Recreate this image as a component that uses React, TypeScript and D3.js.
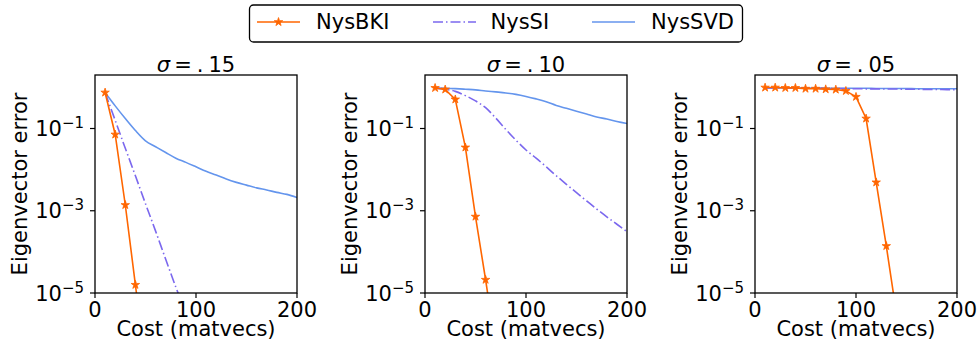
import React, { useEffect, useRef } from 'react';
import * as d3 from 'd3';

// x values (cost in matvecs)
const costs = [10, 20, 30, 40, 50, 60, 70, 80, 90, 100, 110, 120, 130, 140, 150, 160, 170, 180, 190, 200];

// sigma = .15
const bkiCost15 = [10, 20, 30, 40, 50];
const bkiErr15 = [0.75, 0.0715, 1.38e-3, 1.58e-5, 2e-7];
const siCost15 = [10, 20, 30, 40, 50, 60, 70, 80, 90];
const siErr15 = [0.75, 0.158, 0.033, 7.1e-3, 1.48e-3, 3.2e-4, 6.6e-5, 1.4e-5, 3.2e-6];
const svdErr15 = [0.75, 0.355, 0.174, 0.089, 0.05, 0.036, 0.026, 0.019, 0.015, 0.0117,
  0.0091, 0.0074, 0.0059, 0.0049, 0.0042, 0.0036, 0.0032, 0.0028, 0.0025, 0.0021];

// sigma = .10
const bkiCost10 = [10, 20, 30, 40, 50, 60, 70];
const bkiErr10 = [0.97, 0.89, 0.51, 0.0346, 7.2e-4, 2.1e-5, 5e-7];
const siErr10 = [0.96, 0.9, 0.8, 0.63, 0.47, 0.32, 0.18, 0.095, 0.052, 0.03,
  0.019, 0.0117, 7.1e-3, 4.4e-3, 2.75e-3, 1.74e-3, 1.1e-3, 7.1e-4, 4.7e-4, 3.1e-4];
const svdErr10 = [0.966, 0.955, 0.933, 0.902, 0.871, 0.818, 0.776, 0.733, 0.676, 0.603,
  0.525, 0.447, 0.363, 0.309, 0.263, 0.224, 0.191, 0.17, 0.148, 0.132];

// sigma = .05
const bkiCost05 = [10, 20, 30, 40, 50, 60, 70, 80, 90, 100, 110, 120, 130, 140];
const bkiErr05 = [0.99, 0.99, 0.97, 0.97, 0.93, 0.93, 0.9, 0.885, 0.82, 0.59, 0.175, 4.9e-3, 1.39e-4, 3.2e-6];
const siErr05 = [0.97, 0.97, 0.96, 0.96, 0.95, 0.95, 0.94, 0.94, 0.93, 0.93,
  0.92, 0.92, 0.91, 0.91, 0.9, 0.9, 0.89, 0.89, 0.88, 0.88];
const svdErr05 = [0.97, 0.97, 0.97, 0.96, 0.96, 0.96, 0.96, 0.95, 0.95, 0.95,
  0.95, 0.94, 0.94, 0.94, 0.94, 0.93, 0.93, 0.93, 0.93, 0.93];

const panelTitles = ['.15', '.10', '.05'];
const xTicks = [0, 100, 200];
const yTicks = [1e-1, 1e-3, 1e-5];
const legendLabels = ['NysBKI', 'NysSI', 'NysSVD'];

const ORANGE = '#ff6600';
const PURPLE = '#7b68ee';
const BLUE = '#6495ed';
const FONT = '"DejaVu Sans", sans-serif';

const zip = (xs: number[], ys: number[]) => xs.map((x, i) => [x, ys[i]] as [number, number]);

const App: React.FC = () => {
  const svgRef = useRef<SVGSVGElement>(null);

  useEffect(() => {
    if (!svgRef.current) return;
    const svg = d3.select(svgRef.current);
    svg.selectAll('*').remove();

    const panels = [
      { bki: zip(bkiCost15, bkiErr15), si: zip(siCost15, siErr15), svd: zip(costs, svdErr15) },
      { bki: zip(bkiCost10, bkiErr10), si: zip(costs, siErr10), svd: zip(costs, svdErr10) },
      { bki: zip(bkiCost05, bkiErr05), si: zip(costs, siErr05), svd: zip(costs, svdErr05) },
    ];

    const lefts = [95, 425, 755];
    const w = 202;
    const top = 75;
    const h = 218;

    const x = d3.scaleLinear().domain([0, 200]).range([0, w]);
    const y = d3.scaleLog().domain([1e-5, 2]).range([h, 0]);
    const star = d3.symbol().type(d3.symbolStar).size(22);

    panels.forEach((p, i) => {
      const g = svg.append('g').attr('transform', `translate(${lefts[i]},${top})`);
      const clipId = `clip-${i}`;
      g.append('clipPath').attr('id', clipId)
        .append('rect').attr('x', 0).attr('y', 0).attr('width', w).attr('height', h);

      const line = d3.line<[number, number]>().x(d => x(d[0])).y(d => y(d[1]));
      const smooth = d3.line<[number, number]>().x(d => x(d[0])).y(d => y(d[1])).curve(d3.curveMonotoneX);
      const plot = g.append('g').attr('clip-path', `url(#${clipId})`);

      plot.append('path').attr('d', smooth(p.svd)).attr('fill', 'none')
        .attr('stroke', BLUE).attr('stroke-width', 1.6);
      plot.append('path').attr('d', smooth(p.si)).attr('fill', 'none')
        .attr('stroke', PURPLE).attr('stroke-width', 1.6)
        .attr('stroke-dasharray', '10,3,1.5,3');
      plot.append('path').attr('d', line(p.bki)).attr('fill', 'none')
        .attr('stroke', ORANGE).attr('stroke-width', 1.6);
      plot.selectAll('.star').data(p.bki).enter().append('path')
        .attr('d', star)
        .attr('transform', d => `translate(${x(d[0])},${y(d[1])})`)
        .attr('fill', ORANGE).attr('stroke', ORANGE).attr('stroke-width', 0.8);

      // spines
      g.append('rect').attr('width', w).attr('height', h)
        .attr('fill', 'none').attr('stroke', '#000').attr('stroke-width', 1.3);

      // x ticks
      xTicks.forEach(t => {
        g.append('line').attr('x1', x(t)).attr('x2', x(t)).attr('y1', h).attr('y2', h + 5)
          .attr('stroke', '#000').attr('stroke-width', 1.2);
        g.append('text').attr('x', x(t)).attr('y', h + 23.5).attr('text-anchor', 'middle')
          .attr('font-family', FONT).attr('font-size', 21).attr('fill', '#000').text(String(t));
      });

      // y ticks
      yTicks.forEach(t => {
        const yy = y(t);
        g.append('line').attr('x1', -5).attr('x2', 0).attr('y1', yy).attr('y2', yy)
          .attr('stroke', '#000').attr('stroke-width', 1.2);
        const txt = g.append('text').attr('x', -11).attr('y', yy + 7.5).attr('text-anchor', 'end')
          .attr('font-family', FONT).attr('font-size', 21).attr('fill', '#000');
        txt.append('tspan').text('10');
        txt.append('tspan').attr('dy', -8).attr('font-size', 15)
          .text(`\u2212${Math.round(-Math.log10(t))}`);
      });

      // title
      const title = g.append('text').attr('x', w / 2).attr('y', -3.5).attr('text-anchor', 'middle')
        .attr('font-family', FONT).attr('font-size', 21).attr('fill', '#000');
      title.append('tspan').attr('font-style', 'italic').text('\u03c3');
      title.append('tspan').attr('dx', 4).text('=');
      title.append('tspan').attr('dx', 5).text('.');
      title.append('tspan').attr('dx', 5).text(panelTitles[i].slice(1));

      // axis labels
      g.append('text').attr('x', w / 2).attr('y', h + 43).attr('text-anchor', 'middle')
        .attr('font-family', FONT).attr('font-size', 21).attr('fill', '#000')
        .text('Cost (matvecs)');
      g.append('text').attr('transform', `translate(-68,${h / 2}) rotate(-90)`)
        .attr('text-anchor', 'middle')
        .attr('font-family', FONT).attr('font-size', 21).attr('fill', '#000')
        .text('Eigenvector error');
    });

    // legend
    const lg = svg.append('g');
    lg.append('rect').attr('x', 249.5).attr('y', 5).attr('width', 493).attr('height', 37)
      .attr('rx', 4).attr('fill', '#fff').attr('stroke', '#000').attr('stroke-width', 1.3);
    const sampleX = [257, 433, 592];
    const textX = [316, 490.5, 651];
    const colors = [ORANGE, PURPLE, BLUE];
    legendLabels.forEach((label, i) => {
      const ly = 22;
      const ln = lg.append('line').attr('x1', sampleX[i]).attr('x2', sampleX[i] + 43)
        .attr('y1', ly).attr('y2', ly).attr('stroke', colors[i]).attr('stroke-width', 1.6);
      if (i === 1) ln.attr('stroke-dasharray', '10,3,1.5,3');
      if (i === 0) {
        lg.append('path').attr('d', star)
          .attr('transform', `translate(${sampleX[i] + 21.5},${ly})`)
          .attr('fill', ORANGE).attr('stroke', ORANGE).attr('stroke-width', 0.8);
      }
      lg.append('text').attr('x', textX[i]).attr('y', 29.3)
        .attr('font-family', FONT).attr('font-size', 21).attr('fill', '#000').text(label);
    });
  }, []);

  return (
    <svg
      ref={svgRef}
      width={978}
      height={350}
      style={{ position: 'absolute', left: 0, top: 0, background: '#fff', display: 'block' }}
    />
  );
};

export default App;
